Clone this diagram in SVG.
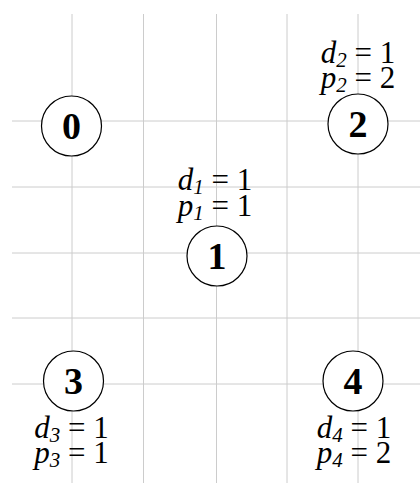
<svg xmlns="http://www.w3.org/2000/svg" width="420" height="483" viewBox="0 0 420 483">
<style>
.grid line{stroke:#cccccc;stroke-width:1}
.node circle{fill:#ffffff;stroke:#000000;stroke-width:1.2}
.num{font-family:"Liberation Serif","Times New Roman",serif;font-weight:bold;font-size:38px;text-anchor:middle;fill:#000}
.lbl{font-family:"Liberation Serif","Times New Roman",serif;font-size:31px;text-anchor:middle;fill:#000}
.v{font-style:italic}
.s{font-style:italic;font-size:21px}
</style>
<rect width="420" height="483" fill="#ffffff"/>
<g class="grid" id="connectors">
<line x1="72" y1="14" x2="72" y2="483"/>
<line x1="143.5" y1="14" x2="143.5" y2="483"/>
<line x1="216.5" y1="14" x2="216.5" y2="483"/>
<line x1="287" y1="14" x2="287" y2="483"/>
<line x1="358" y1="14" x2="358" y2="483"/>
<line x1="12" y1="121" x2="420" y2="121"/>
<line x1="12" y1="187" x2="420" y2="187"/>
<line x1="12" y1="253" x2="420" y2="253"/>
<line x1="12" y1="318" x2="420" y2="318"/>
<line x1="12" y1="384" x2="420" y2="384"/>
</g>
<g class="node" id="node0">
<circle cx="71.5" cy="126" r="30"/>
<text class="num" x="71.5" y="139">0</text>
</g>
<g class="node" id="node1">
<circle cx="217" cy="256" r="30"/>
<text class="num" x="217" y="269">1</text>
<text class="lbl" x="215" y="190"><tspan class="v">d</tspan><tspan class="s" dy="4">1</tspan><tspan dy="-4"> = 1</tspan></text>
<text class="lbl" x="215" y="216"><tspan class="v">p</tspan><tspan class="s" dy="4">1</tspan><tspan dy="-4"> = 1</tspan></text>
</g>
<g class="node" id="node2">
<circle cx="358" cy="124" r="30"/>
<text class="num" x="358" y="137">2</text>
<text class="lbl" x="358" y="63"><tspan class="v">d</tspan><tspan class="s" dy="4">2</tspan><tspan dy="-4"> = 1</tspan></text>
<text class="lbl" x="358" y="88"><tspan class="v">p</tspan><tspan class="s" dy="4">2</tspan><tspan dy="-4"> = 2</tspan></text>
</g>
<g class="node" id="node3">
<circle cx="73.5" cy="381" r="30"/>
<text class="num" x="73.5" y="394">3</text>
<text class="lbl" x="71.5" y="438"><tspan class="v">d</tspan><tspan class="s" dy="4">3</tspan><tspan dy="-4"> = 1</tspan></text>
<text class="lbl" x="71.5" y="463"><tspan class="v">p</tspan><tspan class="s" dy="4">3</tspan><tspan dy="-4"> = 1</tspan></text>
</g>
<g class="node" id="node4">
<circle cx="353" cy="381" r="30"/>
<text class="num" x="353" y="394">4</text>
<text class="lbl" x="354" y="438"><tspan class="v">d</tspan><tspan class="s" dy="4">4</tspan><tspan dy="-4"> = 1</tspan></text>
<text class="lbl" x="354" y="463"><tspan class="v">p</tspan><tspan class="s" dy="4">4</tspan><tspan dy="-4"> = 2</tspan></text>
</g>
</svg>
